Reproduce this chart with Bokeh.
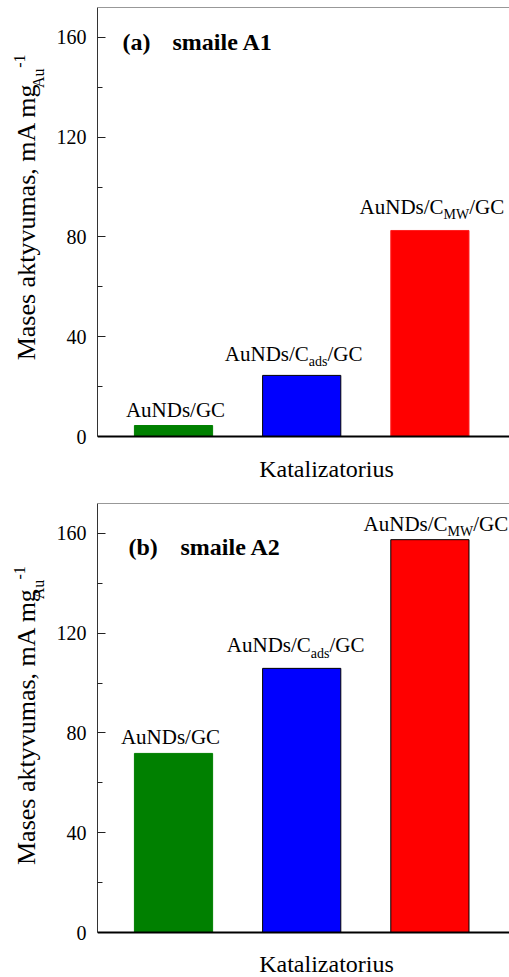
import math
from bokeh.plotting import figure
from bokeh.models import Range1d, FixedTicker, Label, Span, ColumnDataSource
from bokeh.layouts import column, row
from bokeh.embed import file_html
from bokeh.resources import INLINE

# ---------------- data ----------------
positions = [1, 2, 3]
label_prefix = ["AuNDs/GC", "AuNDs/C", "AuNDs/C"]
label_sub = ["", "ads", "MW"]
label_suffix = ["", "/GC", "/GC"]
values_a = [4.4, 24.5, 82.6]
values_b = [71.8, 105.9, 157.5]
y_ticks = [0, 40, 80, 120, 160]
y_minor = [20, 60, 100, 140]
panel_tags = ["(a)", "(b)"]
panel_names = ["smaile A1", "smaile A2"]
y_title = "Mases aktyvumas, mA mg"
y_title_sub = "Au"
y_title_sup = "-1"
x_title = "Katalizatorius"

# ---------------- style ----------------
FONT = "Liberation Serif"
bar_colors = ["#008000", "#0000FF", "#FF0000"]
WID = {'A': 722, 'u': 500, 'N': 722, 'D': 722, 's': 389, '/': 278, 'C': 667,
       'G': 722, 'M': 889, 'W': 944, 'a': 444, 'd': 500, 'g': 500, 'm': 778,
       'e': 444, 'k': 500, 't': 278, 'y': 500, 'v': 500, ',': 250, ' ': 250,
       '-': 333, '1': 500}
COMP = 0.28  # baseline compensation (fraction of font size)


def tw(s, size):
    return sum(WID.get(c, 500) for c in s) / 1000.0 * size


TITLE_W = 48          # width of the strip holding the rotated y title
FRAME_L = 97          # frame left edge in page px
FRAME_R = 509
X0, X1 = 0.407, 3.621
Y1 = 172
AXIS_H = 429          # px from y=0 to y=Y1
PXX = (FRAME_R - FRAME_L) / (X1 - X0)
PXY = AXIS_H / Y1


def lab(x, y, text, size, xo=0.0, yo=0.0, bold=False, align="left"):
    return Label(x=x, y=y, x_offset=xo, y_offset=yo + COMP * size, text=text,
                 text_font=FONT, text_font_size=f"{size}px",
                 text_font_style="bold" if bold else "normal",
                 text_align=align, text_baseline="alphabetic", text_color="black")


def rlab(x, y, text, size):
    return Label(x=x - COMP * size, y=y, text=text, angle=math.pi / 2,
                 text_font=FONT, text_font_size=f"{size}px", text_align="left",
                 text_baseline="alphabetic", text_color="black")


def make_panel(values, tag, name, height, top, line_colors, dx, dy, tag_x, name_x,
               tag_base, ytitle_start, xtitle_gap):
    fb = top + AXIS_H  # y=0 line in figure px
    frame_h = height - top
    y0 = -(frame_h - AXIS_H) / PXY

    p = figure(width=509 - TITLE_W, height=height, output_backend="svg",
               toolbar_location=None, x_axis_type=None,
               x_range=Range1d(X0, X1), y_range=Range1d(y0, Y1),
               min_border_left=FRAME_L - TITLE_W, min_border_right=0,
               min_border_top=top, min_border_bottom=0)
    p.outline_line_color = None
    p.background_fill_color = "white"
    p.border_fill_color = "white"
    p.xgrid.visible = False
    p.ygrid.visible = False

    def dxp(px):
        return X0 + (px - FRAME_L) / PXX

    def dyp(py):
        return (fb - py) / PXY

    src = ColumnDataSource(dict(x=positions, top=values, fill=bar_colors, line=line_colors))
    p.vbar(x="x", top="top", bottom=0, width=0.61, fill_color="fill", line_color="line",
           line_width=1, source=src)

    # y axis
    ya = p.yaxis[0]
    ya.bounds = (0, Y1)
    ya.ticker = FixedTicker(ticks=y_ticks, minor_ticks=y_minor)
    ya.major_tick_in = 8
    ya.major_tick_out = 0
    ya.minor_tick_in = 5
    ya.minor_tick_out = 0
    ya.axis_line_color = "#333333"
    ya.major_tick_line_color = "#222222"
    ya.minor_tick_line_color = "#222222"
    ya.major_label_text_font = FONT
    ya.major_label_text_font_size = "20px"
    ya.major_label_text_color = "black"
    ya.major_label_standoff = 11

    # baseline (x axis line) and top border
    p.add_layout(Span(location=0, dimension="width", line_color="black", line_width=2))
    p.add_layout(Span(location=Y1, dimension="width", line_color="#333333", line_width=1))

    # bar labels
    for i in range(3):
        total = tw(label_prefix[i], 21) + tw(label_sub[i], 14) + tw(label_suffix[i], 21)
        off = -total / 2 + dx[i]
        p.add_layout(lab(positions[i], values[i], label_prefix[i], 21, off, dy[i]))
        off += tw(label_prefix[i], 21)
        if label_sub[i]:
            p.add_layout(lab(positions[i], values[i], label_sub[i], 14, off, dy[i] - 6))
            off += tw(label_sub[i], 14)
            p.add_layout(lab(positions[i], values[i], label_suffix[i], 21, off, dy[i]))

    # panel tag
    p.add_layout(lab(dxp(tag_x), dyp(tag_base), tag, 24, bold=True))
    p.add_layout(lab(dxp(name_x), dyp(tag_base), name, 24, bold=True))

    # x title
    p.add_layout(lab(dxp(326), dyp(fb + xtitle_gap), x_title, 24, align="center"))

    # strip with the rotated y title
    t = figure(width=TITLE_W, height=height, output_backend="svg", toolbar_location=None,
               x_axis_type=None, y_axis_type=None,
               x_range=Range1d(0, TITLE_W), y_range=Range1d(0, height),
               min_border_left=0, min_border_right=0, min_border_top=0, min_border_bottom=0)
    t.outline_line_color = None
    t.background_fill_color = "white"
    t.border_fill_color = "white"
    t.xgrid.visible = False
    t.ygrid.visible = False

    def ty(py):
        return height - py

    main_len = tw(y_title, 26)
    t.add_layout(rlab(33, ty(ytitle_start), y_title, 26))
    s2 = ytitle_start - main_len + 1
    t.add_layout(rlab(42, ty(s2), y_title_sub, 16))
    s3 = s2 - tw(y_title_sub, 16) - 1
    t.add_layout(rlab(23, ty(s3), y_title_sup, 16))
    return row(t, p, spacing=0)


pa = make_panel(values_a, panel_tags[0], panel_names[0], 484, 7,
                ["#008000", "black", "#FF2020"], [2, -8, 2], [10, 16, 18], 122, 172, 48, 358, 39)
pb = make_panel(values_b, panel_tags[1], panel_names[1], 493, 19,
                ["#008000", "black", "black"], [-3, -6, 6], [11, 17, 10], 128, 180, 69, 376, 38)

layout = column(pa, pb, spacing=0)
open("out.html", "w").write(file_html(layout, INLINE))
